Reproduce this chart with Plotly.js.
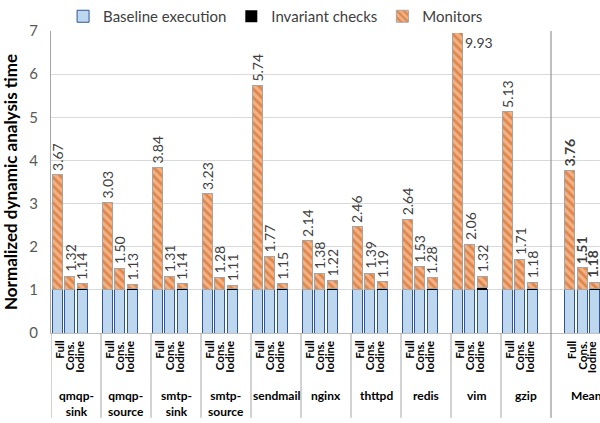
<!DOCTYPE html>
<html>
<head>
<meta charset="utf-8">
<script src="https://cdn.plot.ly/plotly-3.0.1.min.js"></script>
<style>html,body{margin:0;padding:0;background:#fff;}#chart{width:600px;height:423px;}</style>
</head>
<body>
<div id="chart"></div>
<script>
// ---- data ----
const groups = ["qmqp-<br>sink", "qmqp-<br>source", "smtp-<br>sink", "smtp-<br>source", "sendmail", "nginx", "thttpd", "redis", "vim", "gzip", "Mean"];
const variants = ["Full", "Cons.", "Iodine"];
// total normalized time per group: [Full, Cons., Iodine]
const totals = [
  [3.67, 1.32, 1.14],
  [3.03, 1.50, 1.13],
  [3.84, 1.31, 1.14],
  [3.23, 1.28, 1.11],
  [5.74, 1.77, 1.15],
  [2.14, 1.38, 1.22],
  [2.46, 1.39, 1.19],
  [2.64, 1.53, 1.28],
  [9.93, 2.06, 1.32],
  [5.13, 1.71, 1.18],
  [3.76, 1.51, 1.18]
];
const baseline = [
  [1, 1, 1], [1, 1, 1], [1, 1, 1], [1, 1, 1], [1, 1, 1], [1, 1, 1],
  [1, 1, 1], [1, 1, 1], [1, 1, 1], [1, 1, 1], [1, 1, 1]
];
const invariant = [
  [0, 0, 0.02], [0, 0, 0.02], [0, 0, 0.02], [0, 0, 0.02], [0, 0, 0.03], [0, 0, 0.03],
  [0, 0, 0.02], [0, 0, 0.03], [0, 0, 0.06], [0, 0, 0.03], [0, 0, 0.03]
];
const yMax = 7;

// ---- layout helpers (slot positions from indices) ----
const slotsPerGroup = 4;
const nGroups = groups.length;
const meanIdx = nGroups - 1;
function slotPos(g, v) {
  const extra = (g === meanIdx) ? 1 : 0; // Mean group is preceded by an empty slot
  return g * slotsPerGroup + v + extra + 0.5;
}
const xs = [], yBase = [], yInv = [], yMon = [];
groups.forEach((gname, g) => {
  variants.forEach((vn, v) => {
    xs.push(slotPos(g, v));
    yBase.push(baseline[g][v]);
    yInv.push(invariant[g][v]);
    yMon.push(+(totals[g][v] - baseline[g][v] - invariant[g][v]).toFixed(3));
  });
});

const FONT = "Lato, 'Open Sans', sans-serif";
const traces = [
  { type: "bar", name: "Baseline execution", x: xs, y: yBase, width: 0.8,
    marker: { color: "#BDD7EE", line: { color: "#2F5597", width: 1 } }, hoverinfo: "skip" },
  { type: "bar", name: "Invariant checks", x: xs, y: yInv, width: 0.8,
    marker: { color: "#000000", line: { color: "#000000", width: 0 } }, hoverinfo: "skip" },
  { type: "bar", name: "Monitors", x: xs, y: yMon, width: 0.8,
    marker: { color: "#F4B183", line: { color: "#A5A5A5", width: 1 },
      pattern: { shape: "\\", bgcolor: "#F4B183", fgcolor: "#C55A11", size: 6, solidity: 0.45, fillmode: "overlay" } },
    hoverinfo: "skip" }
];

const xRight = (600 - 51) / 12.5;
const annotations = [];
const shapes = [];
const axisBottomPx = 333, plotTopPx = 27, plotH = axisBottomPx - plotTopPx;
const paperY = px => (axisBottomPx - px) / plotH;

groups.forEach((gname, g) => {
  const isMean = g === meanIdx;
  variants.forEach((vn, v) => {
    const x = slotPos(g, v);
    const t = totals[g][v];
    const txt = t.toFixed(2);
    if (t > yMax) {
      annotations.push({ x: x + 0.45, y: yMax, xref: "x", yref: "y", text: txt, showarrow: false,
        xanchor: "left", yanchor: "top", yshift: -1,
        font: { family: FONT, size: 14, color: "#404040" } });
    } else {
      annotations.push({ x: x, y: t, xref: "x", yref: "y", text: isMean ? "<b>" + txt + "</b>" : txt,
        showarrow: false, textangle: -90, xanchor: "center", yanchor: "bottom", yshift: 2,
        xshift: (isMean && v === 2) ? -3 : 0,
        font: { family: FONT, size: 14, color: "#404040" } });
    }
    // variant labels under axis (packed around the middle bar)
    annotations.push({ x: slotPos(g, 1) + (v - 1) * 0.8, y: paperY(339), xref: "x", yref: "paper", text: "<b>" + vn + "</b>",
      showarrow: false, textangle: -90, xanchor: "center", yanchor: "top",
      font: { family: FONT, size: 11.5, color: "#000000" } });
  });
  // group label
  const cx = isMean ? slotPos(g, 1) + 0.3 : g * slotsPerGroup + 2;
  annotations.push({ x: cx, y: paperY(387), xref: "x", yref: "paper", text: "<b>" + gname + "</b>",
    showarrow: false, xanchor: "center", yanchor: "top", align: "center",
    font: { family: FONT, size: 12, color: "#000000" } });
});

// group separators in label area
for (let g = 0; g <= nGroups; g++) {
  const x = g * slotsPerGroup;
  if (x > xRight) break;
  shapes.push({ type: "line", xref: "x", yref: "paper", x0: x, x1: x,
    y0: paperY(419), y1: (g === meanIdx) ? 1 : 0,
    line: { color: (g === meanIdx) ? "#808080" : "#A6A6A6", width: 1 } });
}

const layout = {
  width: 600, height: 423,
  margin: { l: 51, r: 0, t: plotTopPx, b: 423 - axisBottomPx, pad: 0 },
  paper_bgcolor: "#ffffff", plot_bgcolor: "#ffffff",
  barmode: "stack",
  font: { family: FONT, color: "#404040" },
  showlegend: true,
  legend: { orientation: "h", x: 0.022, xanchor: "left", y: paperY(12), yanchor: "middle",
    font: { family: FONT, size: 15, color: "#404040" }, traceorder: "normal", itemwidth: 30 },
  xaxis: { range: [0, xRight], showgrid: false, zeroline: false, showticklabels: false,
    showline: true, linecolor: "#BFBFBF", linewidth: 1, ticks: "", fixedrange: true },
  yaxis: { range: [0, yMax], dtick: 1, tick0: 0, showgrid: true, gridcolor: "#D9D9D9", gridwidth: 1,
    zeroline: false, showline: true, linecolor: "#A6A6A6", linewidth: 1, ticks: "",
    tickfont: { family: FONT, size: 15, color: "#595959" }, ticklabelstandoff: 9,
    title: { text: "<b>Normalized dynamic analysis time</b>", font: { family: FONT, size: 17, color: "#000000" }, standoff: 9 } },
  annotations: annotations,
  shapes: shapes
};

Plotly.newPlot("chart", traces, layout, { displayModeBar: false, staticPlot: true });
</script>
</body>
</html>
